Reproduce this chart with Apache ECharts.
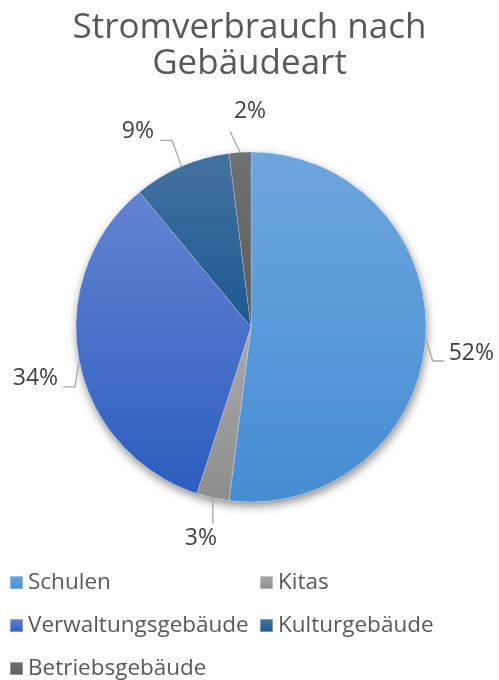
<!DOCTYPE html>
<html><head><meta charset="utf-8">
<script src="https://cdn.jsdelivr.net/npm/echarts@6/dist/echarts.min.js"></script>
<style>html,body{margin:0;padding:0;background:#fff}#c{width:499px;height:680px}</style>
</head><body><div id="c"></div>
<script>
const titleText = 'Stromverbrauch nach\nGebäudeart';
const categories = ['Schulen', 'Kitas', 'Verwaltungsgebäude', 'Kulturgebäude', 'Betriebsgebäude'];
const values = [52, 3, 34, 9, 2];
const leftLegend = ['Schulen', 'Verwaltungsgebäude', 'Betriebsgebäude'];
const rightLegend = ['Kitas', 'Kulturgebäude'];

const FONT = 'Open Sans';
const gradients = [
  ['#6ea6dd', '#468dd3'],
  ['#a9a9a9', '#8e8e8e'],
  ['#6383d0', '#2d5dbf'],
  ['#44729f', '#1d5891'],
  ['#707070', '#5c5c5c']
];
// leader-line style per label, relative to the slice-edge anchor computed by ECharts:
// elbow offset, horizontal run, label offset from line end, alignment
const leader = [
  { ex: 7, ey: 23, run: 11, lx: 5, ly: -8, align: 'left' },
  { ex: 0, ey: 26, run: 0, lx: -12, ly: 15, align: 'center' },
  { ex: -4, ey: 27, run: -12, lx: -5, ly: -8, align: 'right' },
  { ex: -9.5, ey: -26, run: -12, lx: -6, ly: -8.5, align: 'right' },
  { ex: -10, ey: -21, run: 0, lx: 20, ly: -19.5, align: 'center' }
];
function grad(c) {
  return new echarts.graphic.LinearGradient(0, 0, 0, 1, [
    { offset: 0, color: c[0] }, { offset: 1, color: c[1] }
  ]);
}
const total = values.reduce((a, b) => a + b, 0);

const chart = echarts.init(document.getElementById('c'), null, { renderer: 'canvas' });
const legendBase = {
  orient: 'vertical', padding: 0, height: 200,
  itemWidth: 13, itemHeight: 13, itemGap: 20,
  icon: 'rect',
  textStyle: { fontFamily: FONT, fontSize: 22.5, color: '#595959', lineHeight: 23 },
  selectedMode: false
};
chart.setOption({
  animation: false,
  title: {
    text: titleText, left: 'center', top: 5,
    textStyle: { fontFamily: FONT, fontSize: 35, fontWeight: 'normal', color: '#595959', lineHeight: 36 }
  },
  legend: [
    Object.assign({}, legendBase, { data: leftLegend, left: 9, top: 571 }),
    Object.assign({}, legendBase, { data: rightLegend, left: 259, top: 571 })
  ],
  series: [
    {
      type: 'pie', silent: true, z: 1,
      center: [251, 327], radius: 175,
      label: { show: false }, labelLine: { show: false },
      itemStyle: { color: '#ffffff', shadowBlur: 10, shadowOffsetX: 1, shadowOffsetY: 4, shadowColor: 'rgba(0,0,0,0.45)' },
      data: [{ name: '_bg', value: total }]
    },
    {
      type: 'pie', z: 2,
      center: [251, 327], radius: 175,
      startAngle: 90, clockwise: true,
      avoidLabelOverlap: false,
      itemStyle: { borderWidth: 0.6, borderColor: 'rgba(255,255,255,0.35)' },
      label: {
        show: true, position: 'outside',
        formatter: p => p.value + '%',
        fontFamily: FONT, fontSize: 23, color: '#404040'
      },
      labelLine: { show: true, length: 10, length2: 10, lineStyle: { color: '#a6a6a6', width: 1.3 } },
      labelLayout: function (p) {
        const L = leader[p.dataIndex];
        const a = p.labelLinePoints[0];
        const e = [a[0] + L.ex, a[1] + L.ey];
        const end = [e[0] + L.run, e[1]];
        return {
          x: end[0] + L.lx, y: end[1] + L.ly,
          align: L.align, verticalAlign: 'middle',
          labelLinePoints: [a, e, end]
        };
      },
      data: categories.map((n, i) => ({ name: n, value: values[i], itemStyle: { color: grad(gradients[i]) } }))
    }
  ]
});
</script></body></html>
